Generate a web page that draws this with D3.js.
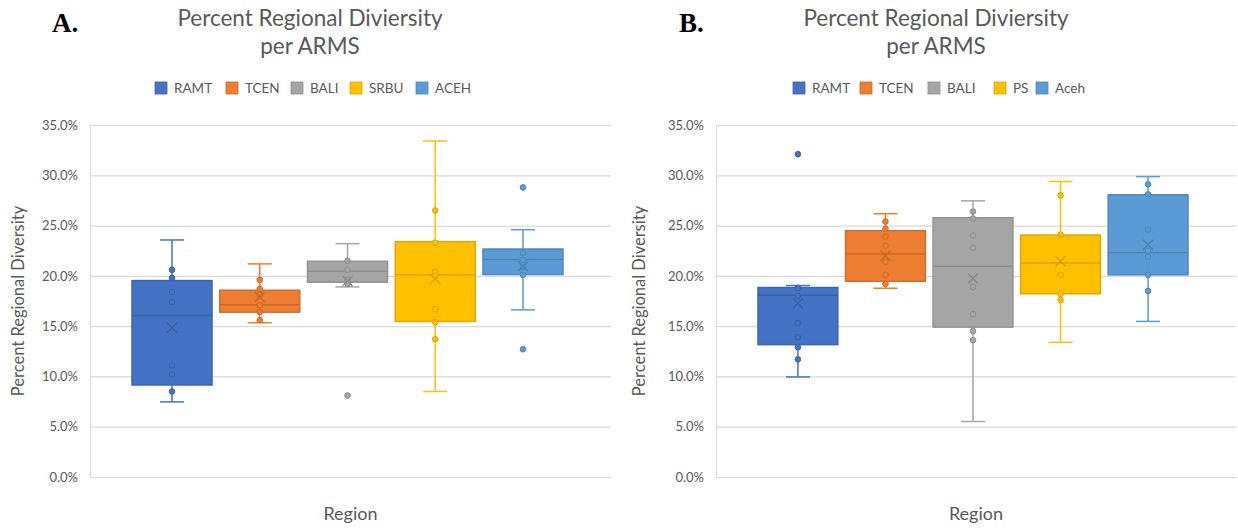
<!DOCTYPE html>
<html>
<head>
<meta charset="utf-8">
<script src="https://cdn.jsdelivr.net/npm/d3@7"></script>
<style>
  body { margin: 0; background: #fff; }
  text { font-family: Lato, "Open Sans", sans-serif; }
</style>
</head>
<body>
<div id="chart"></div>
<script>
// colours shared by both panels (Office palette)
var colors = ["#4472C4", "#ED7D31", "#A5A5A5", "#FFC000", "#5B9BD5"];
var yTicks = [0, 5, 10, 15, 20, 25, 30, 35];

// panel A
var seriesA = ["RAMT", "TCEN", "BALI", "SRBU", "ACEH"];
var whiskerLoA = [7.47, 15.34, 18.9, 8.5, 16.62];
var q1A = [9.15, 16.39, 19.37, 15.47, 20.13];
var medianA = [16.06, 17.12, 20.46, 20.1, 21.62];
var q3A = [19.53, 18.57, 21.45, 23.4, 22.67];
var whiskerHiA = [23.57, 21.19, 23.2, 33.41, 24.59];
var meanA = [14.84, 17.9, 19.5, 19.7, 20.95];
var pointsA = [
  [20.6, 19.8, 18.4, 17.4, 11.1, 10.2, 8.5],
  [19.6, 18.7, 18.1, 17.1, 16.4, 15.6],
  [21.5, 20.6, 19.6, 19.2, 8.1],
  [26.5, 23.3, 20.4, 20.0, 16.7, 15.4, 13.7],
  [28.8, 22.3, 21.6, 20.9, 20.1, 12.7]
];

// panel B
var seriesB = ["RAMT", "TCEN", "BALI", "PS", "Aceh"];
var whiskerLoB = [9.95, 18.77, 5.52, 13.39, 15.47];
var q1B = [13.16, 19.46, 14.9, 18.22, 20.1];
var medianB = [18.08, 22.18, 20.95, 21.29, 22.31];
var q3B = [18.84, 24.49, 25.78, 24.06, 28.06];
var whiskerHiB = [19.04, 26.18, 27.46, 29.38, 29.87];
var meanB = [17.28, 22.0, 19.73, 21.45, 23.1];
var pointsB = [
  [32.1, 18.8, 18.0, 15.3, 13.9, 12.9, 11.7],
  [25.4, 24.7, 23.9, 23.0, 21.4, 20.1, 19.2],
  [26.4, 25.7, 24.0, 22.8, 18.9, 16.2, 14.5, 13.6],
  [28.0, 24.1, 20.1, 18.2, 17.6],
  [29.1, 28.1, 24.6, 22.5, 21.9, 20.1, 18.5]
];

var W = 1238, H = 529;
var svg = d3.select("#chart").append("svg")
  .attr("width", W).attr("height", H)
  .style("background", "#fff");

var y = d3.scaleLinear().domain([0, 35]).range([477, 125]);

function panel(o) {
  var g = svg.append("g");
  var rows = o.series.map(function(s, i) {
    return { name: s, color: colors[i], lo: o.lo[i], q1: o.q1[i], med: o.med[i],
             q3: o.q3[i], hi: o.hi[i], mean: o.mean[i], pts: o.pts[i] };
  });

  var x = d3.scaleBand().domain(o.series)
    .range([o.left + 42, o.right - 48])
    .paddingInner(0.088);

  // panel letter
  g.append("text").attr("x", o.letterX).attr("y", 32)
    .style("font-family", "'Liberation Serif', 'Times New Roman', serif")
    .attr("font-weight", "bold").attr("font-size", 27).attr("fill", "#000")
    .text(o.letter);

  // title
  var title = g.append("text").attr("text-anchor", "middle")
    .attr("fill", "#595959").attr("font-size", 22.5);
  title.append("tspan").attr("x", o.titleX).attr("y", 26).text("Percent Regional Diviersity");
  title.append("tspan").attr("x", o.titleX).attr("y", 54).text("per ARMS");

  // legend
  var leg = g.selectAll(".leg").data(rows).enter().append("g")
    .attr("transform", function(d, i) { return "translate(" + o.legendX[i] + ",82)"; });
  leg.append("rect").attr("width", 12).attr("height", 12)
    .attr("fill", function(d) { return d.color; })
    .attr("stroke", function(d) { return d3.color(d.color).darker(0.4); })
    .attr("stroke-width", 0.8);
  leg.append("text").attr("x", 19).attr("y", 11)
    .attr("font-size", 13.5).attr("fill", "#595959")
    .text(function(d) { return d.name; });

  // gridlines + y axis
  var yAxis = d3.axisLeft(y).tickValues(yTicks)
    .tickSize(-(o.right - o.left)).tickPadding(12)
    .tickFormat(function(d) { return d.toFixed(1) + "%"; });
  var ax = g.append("g").attr("transform", "translate(" + o.left + ",0)").call(yAxis);
  ax.select(".domain").attr("stroke", "#D9D9D9");
  ax.selectAll(".tick line").attr("stroke", "#D9D9D9").attr("stroke-width", 1.2);
  ax.selectAll(".tick text").attr("fill", "#595959").attr("font-size", 13)
    .attr("font-family", "Lato, 'Open Sans', sans-serif");

  // axis titles
  g.append("text").attr("transform", "translate(" + o.yTitleX + ",301) rotate(-90)")
    .attr("text-anchor", "middle").attr("fill", "#595959").attr("font-size", 16.5)
    .text("Percent Regional Diversity");
  g.append("text").attr("x", (o.left + o.right) / 2).attr("y", 520)
    .attr("text-anchor", "middle").attr("fill", "#595959").attr("font-size", 18)
    .text("Region");

  // boxes
  var bw = x.bandwidth();
  var box = g.selectAll(".box").data(rows).enter().append("g")
    .attr("transform", function(d) { return "translate(" + x(d.name) + ",0)"; });

  box.append("line").attr("x1", bw / 2).attr("x2", bw / 2)
    .attr("y1", function(d) { return y(d.hi); }).attr("y2", function(d) { return y(d.lo); })
    .attr("stroke", function(d) { return d.color; }).attr("stroke-width", 1.5);
  box.append("line").attr("x1", bw / 2 - 12).attr("x2", bw / 2 + 12)
    .attr("y1", function(d) { return y(d.hi); }).attr("y2", function(d) { return y(d.hi); })
    .attr("stroke", function(d) { return d.color; }).attr("stroke-width", 1.5);
  box.append("line").attr("x1", bw / 2 - 12).attr("x2", bw / 2 + 12)
    .attr("y1", function(d) { return y(d.lo); }).attr("y2", function(d) { return y(d.lo); })
    .attr("stroke", function(d) { return d.color; }).attr("stroke-width", 1.5);

  box.append("rect").attr("x", 0).attr("width", bw)
    .attr("y", function(d) { return y(d.q3); })
    .attr("height", function(d) { return y(d.q1) - y(d.q3); })
    .attr("fill", function(d) { return d.color; })
    .attr("stroke", function(d) { return d3.color(d.color).darker(0.35); })
    .attr("stroke-width", 1.5);

  box.append("line").attr("x1", 0).attr("x2", bw)
    .attr("y1", function(d) { return y(d.med); }).attr("y2", function(d) { return y(d.med); })
    .attr("stroke", function(d) { return d3.color(d.color).darker(0.45); })
    .attr("stroke-width", 1.5);

  // points
  box.selectAll("circle").data(function(d) {
      return d.pts.map(function(v) { return { v: v, color: d.color }; });
    }).enter().append("circle")
    .attr("cx", bw / 2).attr("cy", function(p) { return y(p.v); }).attr("r", 2.8)
    .attr("fill", function(p) { return p.color; })
    .attr("stroke", function(p) { return d3.color(p.color).darker(0.45); })
    .attr("stroke-width", 1);

  // mean marker
  box.append("path")
    .attr("d", function(d) {
      var cx = bw / 2, cy = y(d.mean), r = 5;
      return "M" + (cx - r) + "," + (cy - r) + "L" + (cx + r) + "," + (cy + r) +
             "M" + (cx - r) + "," + (cy + r) + "L" + (cx + r) + "," + (cy - r);
    })
    .attr("stroke", function(d) { return d3.color(d.color).darker(0.5); })
    .attr("stroke-width", 1.3).attr("fill", "none");
}

panel({ series: seriesA, lo: whiskerLoA, q1: q1A, med: medianA, q3: q3A, hi: whiskerHiA,
        mean: meanA, pts: pointsA, left: 90, right: 611, letter: "A.", letterX: 52,
        titleX: 310, yTitleX: 24, legendX: [155, 226, 291, 350, 416] });

panel({ series: seriesB, lo: whiskerLoB, q1: q1B, med: medianB, q3: q3B, hi: whiskerHiB,
        mean: meanB, pts: pointsB, left: 716, right: 1236, letter: "B.", letterX: 679,
        titleX: 936, yTitleX: 645, legendX: [793, 860, 928, 994, 1036] });
</script>
</body>
</html>
